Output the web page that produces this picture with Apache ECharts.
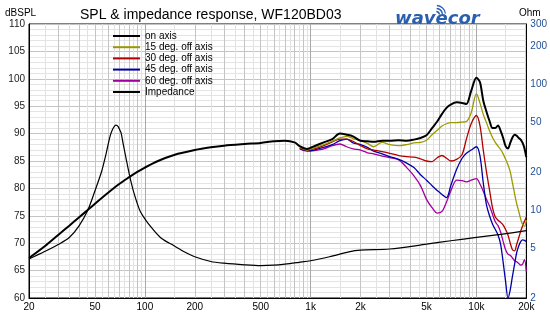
<!DOCTYPE html>
<html>
<head>
<meta charset="utf-8">
<script src="https://cdn.jsdelivr.net/npm/echarts@6/dist/echarts.min.js"></script>
<style>html,body{margin:0;padding:0;background:#fff}#c{width:550px;height:317px}</style>
</head>
<body>
<div id="c"></div>
<script>
// ---------- data ----------
const xTickLabels = [20, 50, 100, 200, 500, 1000, 2000, 5000, 10000, 20000];
const ohmTickLabels = [2, 5, 10, 20, 50, 100, 200, 300];
const seriesNames = ['on axis', '15 deg. off axis', '30 deg. off axis', '45 deg. off axis', '60 deg. off axis', 'Impedance'];

const freqLow = [20,25,30,35,40,45,50,60,70,80,90,100,120,150,200,250,300,400,500,600,700,800];
const splOnLow = [67.3,69.5,71.5,73.2,74.7,76.0,77.2,79.2,80.8,82.0,83.0,83.8,85.0,86.1,87.0,87.5,87.8,88.1,88.3,88.6,88.7,88.4];

const freqHigh = [860,950,1050,1200,1350,1500,1650,1800,2000,2200,2400,2700,3000,3400,3800,4200,4600,5000,5400,5800,6200,6600,7000,7600,8200,8700,9300,10000,10500,11000,11500,12000,12500,13000,13500,14000,14500,15000,15500,16000,16500,17000,17500,18000,18500,19000,19500,20000];
const splOnHigh = [87.7,87.2,87.7,88.4,89.0,90.0,89.8,89.5,88.7,88.6,88.5,88.7,88.7,88.8,88.7,88.9,89.2,89.7,91.0,92.2,93.6,94.7,95.3,95.7,95.6,95.4,97.8,100.2,99.4,96.0,94.0,92.3,91.0,91.0,91.5,90.5,89.2,87.7,87.3,88.3,89.3,89.8,89.6,89.2,88.9,88.3,87.3,85.7];
const spl15 = [87.5,87.0,87.4,88.0,88.6,89.2,89.5,89.1,88.7,88.2,87.6,88.4,88.0,87.8,88.0,88.3,88.4,88.8,89.8,90.6,91.4,91.8,92.0,92.0,92.1,92.2,93.8,97.3,95.6,93.5,92.0,90.5,89.3,88.4,87.7,87.1,86.3,85.3,84.3,83.0,81.0,79.0,77.2,75.8,74.4,73.4,73.1,74.2];
const spl30 = [87.4,87.0,87.2,87.8,88.5,89.0,89.0,88.6,87.8,87.2,87.0,86.7,86.4,86.0,85.8,85.7,85.4,85.0,84.9,85.6,86.0,85.5,85.0,85.3,86.2,89.0,91.8,93.3,91.5,87.0,83.0,79.7,76.5,74.8,74.2,73.8,73.3,72.5,71.5,70.0,68.8,68.6,69.8,71.0,72.2,73.2,74.0,74.8];
const spl45 = [87.3,86.9,87.0,87.5,88.0,88.7,89.0,88.3,88.0,87.5,86.8,86.3,85.8,85.3,84.6,83.8,82.5,81.5,80.5,79.6,78.9,78.3,80.5,83.5,85.5,86.4,87.0,87.6,86.0,81.0,77.0,75.0,73.5,72.5,71.5,69.8,66.5,63.0,60.0,61.5,64.0,66.2,68.3,69.5,70.3,70.6,70.5,70.3];
const spl60 = [87.2,86.8,86.9,87.2,87.8,88.1,87.6,87.2,87.0,86.5,86.3,85.9,85.6,85.2,83.8,82.3,80.5,78.0,76.5,75.5,75.8,77.5,79.5,81.5,81.4,81.2,81.5,81.8,80.8,79.5,78.0,76.8,75.3,73.9,73.2,72.0,70.3,68.8,68.0,67.8,67.3,66.8,66.6,66.3,66.0,66.2,67.0,64.8];

const freqImp = [20,25,30,35,40,45,50,55,58,60,62,64,66,67,69,71,72,74,77,81,86,93,100,110,125,150,175,200,250,300,400,500,600,700,850,1000,1300,1700,2000,3000,5000,7000,10000,14000,20000];
const impedance = [4.08,4.7,5.32,6.04,7.45,9.8,14.2,20.5,27,33,39.5,44,46.8,47.2,46,42.5,40.6,33.5,25.7,18.6,13.6,10,8.5,7.2,6.0,5.2,4.62,4.25,3.9,3.78,3.67,3.62,3.65,3.72,3.84,3.95,4.25,4.65,4.8,4.9,5.35,5.7,6.05,6.4,6.85];

// ---------- grid line positions (log decades) ----------
const wholeSteps = [], halfSteps = [], decades = [100, 1000, 10000];
[10, 100, 1000, 10000].forEach(d => {
  for (let n = 1; n <= 9; n++) {
    const w = n * d, h = (n + 0.5) * d;
    if (w >= 20 && w <= 20000 && decades.indexOf(w) < 0) wholeSteps.push(w);
    if (h >= 20 && h <= 20000) halfSteps.push(h);
  }
});

const zip = (xs, ys) => xs.map((x, i) => [x, ys[i]]);
const fmtHz = v => v >= 1000 ? (v / 1000) + 'k' : String(v);
const FONT = "'Liberation Sans', Arial, sans-serif";
const LOGO = '#2a5fb0';

const hiddenX = (vals, color) => ({
  type: 'log', logBase: 10, min: 20, max: 20000, gridIndex: 0,
  axisLine: {show: false}, axisLabel: {show: false},
  axisTick: {show: false, customValues: vals},
  splitLine: {show: true, lineStyle: {color: color, width: 1}}
});

const arc = (r) => ({
  type: 'arc', silent: true,
  shape: {cx: 436, cy: 15, r: r, startAngle: -Math.PI * 0.47, endAngle: -Math.PI * 0.05, clockwise: true},
  style: {stroke: LOGO, lineWidth: 1.4, fill: null}
});

const chart = echarts.init(document.getElementById('c'), null, {renderer: 'canvas'});
chart.setOption({
  animation: false,
  backgroundColor: '#fff',
  title: [
    {text: 'SPL & impedance response, WF120BD03', left: 75, top: 3, textStyle: {fontFamily: FONT, fontSize: 14, fontWeight: 'normal', color: '#000'}},
    {text: 'dBSPL', left: 0, top: 3, textStyle: {fontFamily: FONT, fontSize: 10, fontWeight: 'normal', color: '#000'}},
    {text: 'Ohm', left: 514, top: 3, textStyle: {fontFamily: FONT, fontSize: 10, fontWeight: 'normal', color: '#000'}},
    {text: 'wavecor', left: 390, top: 5, textStyle: {fontFamily: "'DejaVu Sans', sans-serif", fontSize: 18, fontWeight: 'bold', fontStyle: 'italic', color: LOGO}}
  ],
  graphic: [arc(3.5), arc(6.5), arc(9.5)],
  grid: {left: 29, right: 23, top: 24, bottom: 19, show: true, borderColor: '#000', borderWidth: 1, backgroundColor: 'transparent'},
  legend: {
    orient: 'vertical', left: 113, top: 31, padding: 0, itemWidth: 27, itemHeight: 2, itemGap: 1.2,
    icon: 'rect', data: seriesNames,
    textStyle: {fontFamily: FONT, fontSize: 10, color: '#000', lineHeight: 10}
  },
  xAxis: [
    {
      type: 'log', logBase: 10, min: 20, max: 20000, gridIndex: 0,
      axisLine: {show: true, lineStyle: {color: '#000'}},
      axisTick: {show: false, customValues: decades},
      axisLabel: {customValues: xTickLabels, formatter: fmtHz, fontFamily: FONT, fontSize: 10, color: '#000', margin: 4},
      splitLine: {show: true, lineStyle: {color: '#a9a9a9', width: 1}}
    },
    hiddenX(wholeSteps, '#c4c4c4'),
    hiddenX(halfSteps, '#e2e2e2')
  ],
  yAxis: [
    {
      type: 'value', min: 60, max: 110, interval: 5, position: 'left',
      axisLine: {show: true, lineStyle: {color: '#000'}},
      axisTick: {show: false},
      axisLabel: {fontFamily: FONT, fontSize: 10, color: '#222', margin: 4},
      splitLine: {show: true, lineStyle: {color: '#c4c4c4'}},
      minorTick: {show: false, splitNumber: 5},
      minorSplitLine: {show: true, lineStyle: {color: '#e4e4e4'}}
    },
    {
      type: 'log', logBase: 10, min: 2, max: 300, position: 'right',
      axisLine: {show: true, lineStyle: {color: '#000'}},
      axisTick: {show: false},
      axisLabel: {customValues: ohmTickLabels, fontFamily: FONT, fontSize: 10, color: '#1f4f96', margin: 4},
      splitLine: {show: false}
    }
  ],
  series: [
    {name: seriesNames[0], type: 'line', data: zip(freqLow.concat(freqHigh), splOnLow.concat(splOnHigh)), color: '#000', lineStyle: {width: 2}, z: 6},
    {name: seriesNames[1], type: 'line', data: zip(freqHigh, spl15), color: '#9a9a00', lineStyle: {width: 1.3}, z: 5},
    {name: seriesNames[2], type: 'line', data: zip(freqHigh, spl30), color: '#b00000', lineStyle: {width: 1.3}, z: 4},
    {name: seriesNames[3], type: 'line', data: zip(freqHigh, spl45), color: '#0000a8', lineStyle: {width: 1.3}, z: 3},
    {name: seriesNames[4], type: 'line', data: zip(freqHigh, spl60), color: '#a000a0', lineStyle: {width: 1.3}, z: 2},
    {name: seriesNames[5], type: 'line', yAxisIndex: 1, data: zip(freqImp, impedance), color: '#000', lineStyle: {width: 1.2}, z: 7}
  ].map(s => Object.assign({symbol: 'none', smooth: 0.3, xAxisIndex: 0, clip: true}, s))
});
</script>
</body>
</html>
